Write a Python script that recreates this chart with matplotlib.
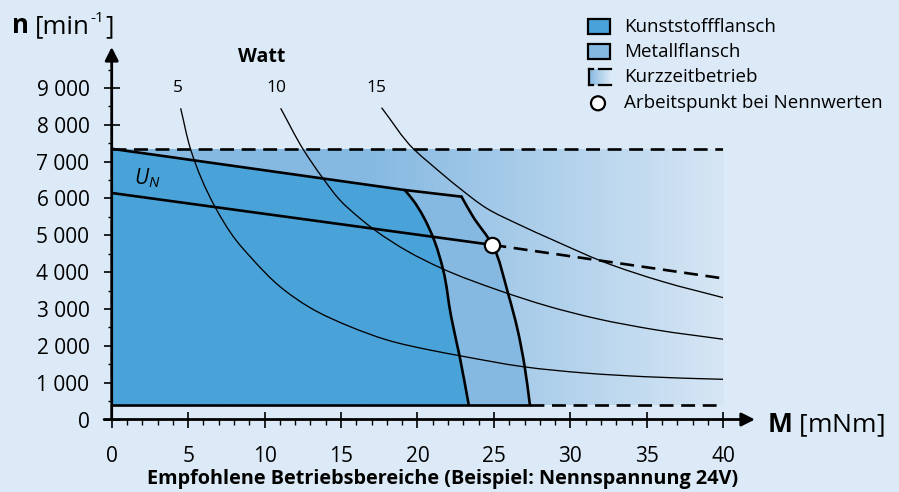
import numpy as np
import matplotlib
matplotlib.use("Agg")
import matplotlib.pyplot as plt
from matplotlib.patches import Rectangle, Circle, PathPatch
from matplotlib.path import Path
import matplotlib.colors as mcolors

plt.rcParams['font.family'] = ['Open Sans', 'DejaVu Sans']
plt.rcParams['mathtext.fontset'] = 'custom'
plt.rcParams['mathtext.rm'] = 'Open Sans'
plt.rcParams['mathtext.it'] = 'Open Sans:italic'
plt.rcParams['mathtext.bf'] = 'Open Sans:bold'
plt.rcParams['lines.scale_dashes'] = False

# ---------------- data ----------------
x_ticks = [0, 5, 10, 15, 20, 25, 30, 35, 40]
y_ticks = [0, 1000, 2000, 3000, 4000, 5000, 6000, 7000, 8000, 9000]
y_tick_labels = ["0", "1 000", "2 000", "3 000", "4 000", "5 000",
                 "6 000", "7 000", "8 000", "9 000"]

n_short_max = 7350      # upper limit (Kurzzeitbetrieb)
n_min = 400             # lower speed limit
M_short_max = 40

# common upper boundary (speed at max voltage)
top_M = [0, 19.17, 22.88]
top_n = [7350, 6230, 6050]

# Kunststoffflansch limit curve
kunst_M = [19.17, 19.7, 21.0, 21.68, 22.2, 22.76, 23.35]
kunst_n = [6230, 5960, 4963, 4059, 2791, 1705, 400]

# Metallflansch limit curve
metall_M = [22.88, 23.63, 24.9, 25.92, 26.55, 27.01, 27.35]
metall_n = [6050, 5507, 4740, 3427, 2430, 1434, 400]

# U_N characteristic
un_M = [0, 24.9]
un_n = [6150, 4740]
un_short_M = [24.9, 40]
un_short_n = [4740, 3830]

# working point
wp_M, wp_n = 24.9, 4740

# Watt curves
w5_M = [4.51, 5.16, 6.75, 8.12, 9.06, 11.0, 13.0, 15.6, 18.0, 20.8, 22.76, 26.9, 31.0, 35.0, 40.0]
w5_n = [8450, 7337, 5778, 4874, 4420, 3610, 3030, 2520, 2160, 1887, 1732, 1434, 1260, 1160, 1091]
w10_M = [11.05, 12.52, 13.83, 14.92, 16.23, 17.2, 19.3, 21.57, 25.38, 28.5, 31.7, 35.5, 40.0]
w10_n = [8450, 7337, 6540, 5960, 5463, 5145, 4580, 4105, 3497, 3080, 2740, 2440, 2178]
w15_M = [17.65, 19.76, 20.8, 22.76, 24.5, 26.6, 28.86, 32.13, 36.05, 40.0]
w15_n = [8466, 7337, 6956, 6277, 5740, 5300, 4874, 4285, 3742, 3307]
watt_labels = ["5", "10", "15"]
watt_label_M = [4.35, 10.76, 17.3]

# ---------------- style ----------------
bg = '#dce9f6'
c_kunst = '#4aa3d8'
c_metall = '#86b9e1'
LW = 1.9
THIN = 0.95
DASH = (10, 5.5)

W, H = 899, 492
x0, x40 = 111.7, 723.3
y0px, y9000 = 419.5, 88.0
SX = (x40 - x0) / 40.0          # px per mNm
SY = (y0px - y9000) / 9000.0    # px per 1/min


def smooth_path(xs, ys):
    """Smooth cubic Bezier drawing through the given points (tangents from neighbours)."""
    P = np.column_stack([xs, ys]).astype(float) * [SX, SY]
    n = len(P)
    T = np.zeros_like(P)
    for i in range(n):
        if i == 0:
            d = P[1] - P[0]
        elif i == n - 1:
            d = P[-1] - P[-2]
        else:
            a = P[i] - P[i - 1]
            b = P[i + 1] - P[i]
            la, lb = np.linalg.norm(a), np.linalg.norm(b)
            d = a / la * lb + b / lb * la
        T[i] = d / np.linalg.norm(d)
    verts = [P[0]]
    codes = [Path.MOVETO]
    for i in range(n - 1):
        L = np.linalg.norm(P[i + 1] - P[i])
        verts += [P[i] + T[i] * L / 3.0, P[i + 1] - T[i + 1] * L / 3.0, P[i + 1]]
        codes += [Path.CURVE4] * 3
    verts = [tuple(v / [SX, SY]) for v in verts]
    return verts, codes


fig = plt.figure(figsize=(W / 100, H / 100), dpi=100)
fig.patch.set_facecolor(bg)
ax = fig.add_axes([x0 / W, (H - y0px) / H, (x40 - x0) / W, (10000 * SY) / H])
ax.set_facecolor('none')
for s in ax.spines.values():
    s.set_visible(False)

# gradient (Kurzzeitbetrieb)
Ms = np.linspace(0, M_short_max, 400)
t = np.clip((Ms - 17) / (41.5 - 17), 0, 1)
c1 = np.array(mcolors.to_rgb(c_metall))
c2 = np.array(mcolors.to_rgb(bg))
grad = (c1[None, :] * (1 - t[:, None]) + c2[None, :] * t[:, None])[None, :, :]
ax.imshow(grad, extent=[0, M_short_max, n_min, n_short_max], aspect='auto', zorder=0,
          interpolation='bilinear')
ax.set_xlim(0, 40)
ax.set_ylim(0, 10000)


def region_path(top_x, top_y, cx, cy):
    v = [(0, n_min), (0, n_short_max)] + list(zip(top_x, top_y))
    c = [Path.MOVETO] + [Path.LINETO] * (len(v) - 1)
    cv, cc = smooth_path(cx, cy)
    v += cv[1:]
    c += cc[1:]
    v.append((0, n_min))
    c.append(Path.CLOSEPOLY)
    return Path(v, c)


ax.add_patch(PathPatch(region_path(top_M, top_n, metall_M, metall_n),
                       facecolor=c_metall, edgecolor='none', zorder=1))
ax.add_patch(PathPatch(region_path(top_M[:2], top_n[:2], kunst_M, kunst_n),
                       facecolor=c_kunst, edgecolor='none', zorder=2))

# Watt curves
for Mv, nv in [(w5_M, w5_n), (w10_M, w10_n), (w15_M, w15_n)]:
    v, c = smooth_path(Mv, nv)
    ax.add_patch(PathPatch(Path(v, c), facecolor='none', edgecolor='black', lw=THIN,
                           zorder=3))
for lab, mx in zip(watt_labels, watt_label_M):
    ax.text(mx, 9000, lab, ha='center', va='center', fontsize=12.5)
ax.text(9.8, 9830, "Watt", ha='center', va='center', fontsize=14, fontweight='bold')

# boundaries
ax.plot(top_M, top_n, color='black', lw=LW, zorder=4, solid_joinstyle='round',
        solid_capstyle='round')
for cx, cy in [(kunst_M, kunst_n), (metall_M, metall_n)]:
    v, c = smooth_path(cx, cy)
    ax.add_patch(PathPatch(Path(v, c), facecolor='none', edgecolor='black', lw=LW,
                           zorder=4, capstyle='round'))
ax.plot([0, metall_M[-1]], [n_min, n_min], color='black', lw=LW, zorder=4)
ax.plot([metall_M[-1], M_short_max], [n_min, n_min], color='black', lw=LW, zorder=4,
        dashes=DASH)
ax.plot([0, M_short_max], [n_short_max, n_short_max], color='black', lw=LW, zorder=4,
        dashes=DASH)
ax.plot(un_M, un_n, color='black', lw=LW, zorder=4)
ax.plot(un_short_M, un_short_n, color='black', lw=LW, zorder=4, dashes=DASH)
ax.plot([wp_M], [wp_n], marker='o', ms=11, mfc='white', mec='black', mew=1.6, zorder=6)
ax.text(2.3, 6550, r"$U_N$", fontsize=15, ha='center', va='center', zorder=5)

# axes arrows
ax.annotate('', xy=(0, 10114), xytext=(0, 0),
            arrowprops=dict(arrowstyle='-|>', lw=2.0, color='black', mutation_scale=20,
                            shrinkA=0, shrinkB=0), annotation_clip=False, zorder=7)
ax.annotate('', xy=(42.07, 0), xytext=(-0.5, 0),
            arrowprops=dict(arrowstyle='-|>', lw=2.0, color='black', mutation_scale=20,
                            shrinkA=0, shrinkB=0), annotation_clip=False, zorder=7)

ax.set_xticks(x_ticks)
ax.set_xticklabels([str(v) for v in x_ticks])
ax.set_xticks(np.arange(0, 41, 1), minor=True)
ax.set_yticks(y_ticks)
ax.set_yticklabels(y_tick_labels)
ax.set_yticks(np.arange(0, 9501, 500), minor=True)
ax.tick_params(axis='x', which='major', direction='inout', length=12, width=1.2,
               labelsize=15, pad=13)
ax.tick_params(axis='x', which='minor', direction='out', length=3.5, width=1.0)
ax.tick_params(axis='y', which='major', direction='inout', length=12, width=1.2,
               labelsize=15, pad=10)
ax.tick_params(axis='y', which='minor', direction='out', length=3, width=1.0)

# overlay in pixel coordinates for titles & legend
ov = fig.add_axes([0, 0, 1, 1], zorder=10)
ov.set_xlim(0, W)
ov.set_ylim(H, 0)
ov.axis('off')
ov.patch.set_alpha(0)

ov.text(767, 432, r"$\mathbf{M}$ [mNm]", fontsize=19, ha='left', va='baseline')
ov.text(443, 479, "Empfohlene Betriebsbereiche (Beispiel: Nennspannung 24V)",
        fontsize=14.3, fontweight='bold', ha='center', va='center')

# y-axis label built from pieces
fig.canvas.draw()
rend = fig.canvas.get_renderer()
tn = ov.text(12, 33, "n", fontsize=18.5, fontweight='bold', ha='left', va='baseline')
xe = tn.get_window_extent(rend).x1
tb = ov.text(xe + 6, 33, "[min", fontsize=18.5, ha='left', va='baseline')
xe = tb.get_window_extent(rend).x1
ts = ov.text(xe + 1, 22, "-1", fontsize=11, ha='left', va='baseline')
xe = ts.get_window_extent(rend).x1
ov.text(xe + 1, 33, "]", fontsize=18.5, ha='left', va='baseline')

# legend
rows = [26.7, 51.7, 77.3, 103.3]
ov.add_patch(Rectangle((588, rows[0] - 7.5), 22, 15, facecolor=c_kunst, edgecolor='black', lw=1.6))
ov.add_patch(Rectangle((588, rows[1] - 7.5), 22, 15, facecolor=c_metall, edgecolor='black', lw=1.6))
lg = np.linspace(0, 1, 64)
lgrad = (c1[None, :] * (1 - lg[:, None]) + c2[None, :] * lg[:, None])[None, :, :]
ov.imshow(lgrad, extent=[589, 611, rows[2] + 8, rows[2] - 8], aspect='auto', zorder=1)
ov.plot([589, 589], [rows[2] - 8, rows[2] + 8], color='black', lw=1.6)
ov.plot([589, 593], [rows[2] - 8, rows[2] - 8], color='black', lw=1.6)
ov.plot([589, 593], [rows[2] + 8, rows[2] + 8], color='black', lw=1.6)
ov.plot([599, 611], [rows[2] - 8, rows[2] - 8], color='black', lw=1.6)
ov.plot([599, 611], [rows[2] + 8, rows[2] + 8], color='black', lw=1.6)
ov.add_patch(Circle((598, rows[3]), 7, facecolor='white', edgecolor='black', lw=1.6))
ov.set_xlim(0, W)
ov.set_ylim(H, 0)
for r, lab in zip(rows, ["Kunststoffflansch", "Metallflansch", "Kurzzeitbetrieb",
                         "Arbeitspunkt bei Nennwerten"]):
    ov.text(624, r, lab, fontsize=13.5, ha='left', va='center')

fig.savefig("out.png", dpi=100, facecolor=bg)
